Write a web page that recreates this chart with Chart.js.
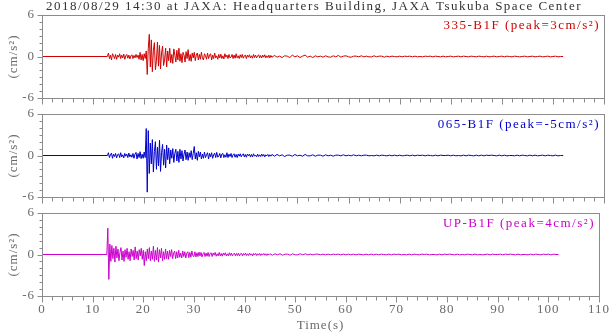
<!DOCTYPE html>
<html>
<head>
<meta charset="utf-8">
<script src="https://cdn.jsdelivr.net/npm/chart.js@4.4.0/dist/chart.umd.min.js"></script>
<style>
  html, body { margin: 0; padding: 0; background: #fff; }
  #wrap { position: relative; width: 616px; height: 334px; }
  #wrap canvas { position: absolute; left: 0; top: 0; }
</style>
</head>
<body>
<div id="wrap">
  <canvas id="c1" width="616" height="334"></canvas>
  <canvas id="c2" width="616" height="334"></canvas>
  <canvas id="c3" width="616" height="334"></canvas>
</div>
<script>
// three accelerograms (cm/s^2).
// quiet until FAST_START, then FAST_STEP samples to 45 s, SLOW_STEP samples to 102 s.
const TITLE = '2018/08/29 14:30 at JAXA: Headquarters Building, JAXA Tsukuba Space Center';
const LABELS = ['335-B1F (peak=3cm/s\u00b2)', '065-B1F (peak=-5cm/s\u00b2)', 'UP-B1F (peak=4cm/s\u00b2)'];
const COLORS = ['#d00000', '#0000cc', '#cc00cc'];
const X_TICKS = [0, 10, 20, 30, 40, 50, 60, 70, 80, 90, 100, 110];
const Y_TICKS = [-6, 0, 6];

const FAST_START = 13.0, FAST_STEP = 0.2;
const SLOW_START = 45.5, SLOW_STEP = 0.5;

const redFast = [
  0.5, -0.3, 0.2, -0.5, 0.4, 0.1, -0.3, 0.3, -0.4, 0.2,
  -0.1, 0.4, -0.3, 0.2, -0.2, 0.35, -0.4, 0.1, 0.3, -0.25,
  0.2, -0.35, 0.1, 0.25, -0.3, 0.15, -0.2, 0.3, -0.15, 0.2,
  -0.4, 0.6, -0.5, 0.3, -0.6,
  0.4, -0.3, 0.8, -2.6, 1.2,
  3.2, -1.5, 2.4, -2.2, 0.9, 2.0, -1.9, -0.6, 2.1, -1.4,
  1.6, -1.8, 0.5, 1.5, -1.3, -0.4, 1.2, -1.5, 0.8, -0.6,
  1.2, -0.9, 0.3, -1.0, 1.1, 0.2, -0.8, 0.9, -0.5, 1.2,
  -0.7, 0.4, -0.9, 0.6, 0.2, -0.8, 0.7, -0.3, 1.0, -0.6,
  0.3, -0.7, 0.5, -0.2, 0.6, -0.6, 0.2, 0.5, -0.5, 0.3,
  -0.4, 0.6, -0.2, -0.5, 0.4, 0.1, -0.4, 0.5, -0.3, 0.2,
  0.4, -0.5, 0.2, -0.3, 0.5, -0.2, 0.1, -0.4, 0.3, -0.2,
  0.35, -0.3, 0.1, -0.35, 0.4, -0.1, 0.2, -0.3, 0.3, -0.2,
  -0.1, 0.3, -0.3, 0.2, -0.25, 0.4, -0.2, 0.1, -0.3, 0.25,
  -0.15, 0.3, -0.25, 0.1, 0.2, -0.3, 0.2, -0.1, 0.25, -0.2,
  0.1, -0.25, 0.3, -0.15, 0.2, -0.2, 0.05, 0.25, -0.2, 0.15,
  -0.2, 0.2, -0.1, 0.25, -0.2, 0.1, -0.15, 0.2, -0.2, 0.15, -0.1
];
const redSlow = [
  0.15, -0.1, 0.05, -0.15, 0.1, 0.05, -0.15, 0.2, -0.05, 0.1,
  -0.15, 0.05, 0.2, -0.1, 0.05, -0.15, 0.1, -0.05, 0.05, -0.1,
  0.1, -0.05, -0.1, 0.1, -0.05, 0.15, -0.1, 0.05, 0.1, -0.05,
  -0.1, 0.05, 0.05, -0.05, 0.1, -0.05, 0.05, -0.05, -0.05, 0.1,
  -0.05, 0.05, 0.05, -0.1, 0.05, -0.05, 0.05, 0, -0.05, 0.05,
  -0.05, 0.05, 0, 0.05, -0.05, 0.05, -0.05, 0, -0.05, 0.05,
  0, 0.05, -0.05, 0.05, 0, -0.05, 0.05, -0.05, 0, 0.05,
  -0.05, 0, 0.05, -0.05, 0.05, 0, -0.05, 0.05, 0, -0.05,
  0.05, 0, -0.05, 0.05, -0.05, 0, 0.05, -0.05, 0, 0.05,
  -0.05, 0.05, 0, -0.05, 0.05, 0, -0.05, 0, 0.05, -0.05,
  0, 0.05, -0.05, 0, 0.05, -0.05, 0, 0.05, -0.05, 0,
  0.05, -0.05, 0, 0
];

const blueFast = [
  0.4, -0.3, 0.1, 0.35, -0.4, 0.2, -0.15, 0.3, -0.35, 0.1,
  0.25, -0.3, 0.4, -0.2, 0.1, -0.35, 0.3, -0.1, 0.2, -0.3,
  0.35, -0.2, 0.1, -0.25, 0.3, -0.4, 0.2, 0.45, -0.5, 0.3,
  -0.3, 0.55, -0.45, 0.2, -0.4,
  0.5, -0.3, 3.9, -5.3, 3.6,
  -2.6, 1.8, -1.2, 2.3, -2.4, 0.6, 2.0, -2.0, 1.2, -1.5,
  2.2, -2.3, 0.4, 1.6, -1.4, 0.9, -1.8, 1.5, -0.6, 1.1,
  -1.2, 0.8, -0.4, 1.0, -1.0, 0.3, 0.9, -0.8, 0.6, -1.0,
  0.9, -0.5, 0.7, -0.8, 0.2, 0.8, -0.6, 0.5, -0.7, 0.4,
  -0.3, 0.7, -0.6, 0.3, 1.3, -0.5, 0.4, -0.7, 0.6, -0.2,
  0.5, -0.5, 0.2, -0.4, 0.5, -0.3, 0.1, 0.4, -0.5, 0.3,
  -0.2, 0.4, -0.4, 0.1, 0.35, -0.3, 0.45, -0.25, -0.1, 0.3,
  -0.35, 0.2, 0.3, -0.3, 0.1, -0.25, 0.4, -0.3, 0.2, -0.15,
  0.3, -0.3, 0.1, 0.25, -0.25, 0.15, -0.3, 0.2, -0.1, 0.25,
  -0.2, 0.1, 0.25, -0.2, 0.15, -0.25, 0.2, -0.05, 0.2, -0.2,
  0.15, -0.2, 0.25, -0.1, 0.05, -0.2, 0.2, -0.15, 0.1, -0.15,
  0.2, -0.1, 0.15, -0.2, 0.1, -0.05, 0.15, -0.15, 0.1, -0.1, 0.15
];
const blueSlow = [
  -0.1, 0.15, -0.05, 0.1, -0.15, 0.05, 0.05, -0.1, 0.15, -0.05,
  0.05, -0.1, 0.15, -0.05, -0.05, 0.1, -0.1, 0.05, 0.05, -0.1,
  0.1, -0.05, 0.05, -0.1, 0.05, 0.05, -0.05, 0.1, -0.05, 0.05,
  -0.05, 0.1, -0.05, 0.05, -0.05, 0.05, 0.05, -0.05, 0, -0.05,
  0.05, -0.05, 0.05, 0, -0.05, 0.05, -0.05, 0.05, -0.05, 0.05,
  -0.05, 0, 0.05, -0.05, 0.05, -0.05, 0.05, 0, 0.05, -0.05,
  0.05, 0, -0.05, 0.05, -0.05, 0.05, 0, 0, 0.05, -0.05,
  0.05, -0.05, 0, -0.05, 0.05, -0.05, 0.05, 0, -0.05, 0.05,
  -0.05, 0.05, -0.05, 0.05, 0, 0.05, 0, -0.05, 0.05, -0.05,
  0.05, -0.05, 0, 0, -0.05, 0.05, -0.05, 0.05, 0, -0.05,
  0.05, -0.05, 0.05, -0.05, 0, 0.05, -0.05, 0.05, 0, -0.05,
  0.05, -0.05, 0, 0
];

const upFast = [
  3.8, -3.6, 1.5, -1.0, 1.3, -0.6, 0.9, -1.1, 1.2, -0.5,
  0.8, -0.9, 0.3, 1.0, -0.8, 0.5, -1.0, 0.7, -0.4, 0.9,
  -0.7, 0.4, -0.9, 0.8, -0.3, 0.6, -0.8, 1.1, -0.6, 0.5,
  -0.8, 0.7, -0.2, 0.9, -0.7, 0.6, -1.6, 0.4, -0.9, 0.8,
  -0.6, 1.0, -0.9, 0.5, -0.7, 1.2, -1.0, 0.6, -0.8, 1.0,
  -1.1, 0.7, -0.5, 0.9, -0.9, 0.4, -0.7, 0.8, -0.6, 0.5,
  -0.7, 0.6, -0.3, 0.7, -0.6, 0.2, 0.5, -0.6, 0.4, -0.5,
  0.6, -0.4, 0.2, -0.5, 0.5, -0.3, 0.4, -0.5, 0.2, 0.4,
  -0.45, 0.3, -0.4, 0.5, -0.2, -0.3, 0.4, -0.35, 0.25, -0.3,
  0.35, -0.2, 0.3, -0.35, 0.1, 0.3, -0.3, 0.2, -0.25, 0.3,
  -0.3, 0.15, 0.25, -0.3, 0.2, -0.1, 0.3, -0.25, 0.1, -0.2,
  0.3, -0.2, 0.15, -0.25, 0.2, -0.1, 0.25, -0.2, 0.1, -0.2,
  0.25, -0.15, 0.2, -0.2, 0.05, 0.2, -0.2, 0.15, -0.15, 0.2,
  -0.2, 0.1, 0.15, -0.2, 0.15, -0.1, 0.2, -0.15, 0.1, -0.15,
  0.2, -0.1, 0.1, -0.2, 0.15, -0.05, 0.15, -0.15, 0.1, -0.1,
  0.15, -0.15, 0.1, -0.05, 0.15, -0.1, 0.1, -0.15, 0.1, -0.05, 0.1
];
const upSlow = [
  -0.1, 0.1, -0.05, 0.1, -0.1, 0.05, 0.05, -0.1, 0.1, -0.05,
  -0.05, 0.1, -0.05, 0.1, -0.05, 0.05, -0.05, 0.05, 0.05, -0.05,
  0.05, -0.05, 0.05, -0.05, 0.05, 0, 0.05, -0.05, 0.05, -0.05,
  0.05, -0.05, 0.05, -0.05, 0.05, 0, -0.05, 0.05, -0.05, 0.05,
  -0.05, 0.05, -0.05, 0.05, 0, -0.05, 0.05, -0.05, 0.05, 0,
  0.05, -0.05, 0, -0.05, 0.05, -0.05, 0.05, 0, -0.05, 0.05,
  0, 0.05, -0.05, 0, 0, -0.05, 0.05, -0.05, 0.05, 0,
  0.05, 0, -0.05, 0.05, -0.05, 0, -0.05, 0.05, 0, -0.05,
  0.05, -0.05, 0, -0.05, 0, 0.05, -0.05, 0.05, 0, 0,
  0.05, -0.05, 0.05, 0, 0.05, 0, -0.05, 0.05, -0.05, 0,
  0, -0.05, 0.05, -0.05, 0.05, 0, -0.05, 0.05, 0, 0.05,
  -0.05, 0.05, 0, 0
];

const FONT = "'Liberation Serif', 'DejaVu Serif', serif";
const AXIS = '#8c8c8c';
const TEXT = '#6a6a6a';

function trace(fast, slow) {
  const pts = [{ x: 0, y: 0 }, { x: FAST_START - FAST_STEP, y: 0 }];
  fast.forEach((v, i) => pts.push({ x: FAST_START + i * FAST_STEP, y: v }));
  slow.forEach((v, i) => pts.push({ x: SLOW_START + i * SLOW_STEP, y: v }));
  return pts;
}

// the original lettering is loosely spaced
const spacingPlugin = {
  id: 'spacing',
  beforeUpdate(chart) { chart.ctx.letterSpacing = '1px'; },
  beforeDraw(chart) { chart.ctx.letterSpacing = '1px'; }
};

// frame, minor/major tick marks, in-panel label (and page title on the first panel)
const framePlugin = {
  id: 'frame',
  afterDraw(chart, args, o) {
    const { ctx, chartArea: a, scales: { x, y } } = chart;
    ctx.save();
    ctx.strokeStyle = AXIS;
    ctx.lineWidth = 1;
    const L = Math.round(a.left) + 0.5, R = Math.round(a.right) + 0.5;
    const T = Math.round(a.top) + 0.5, B = Math.round(a.bottom) + 0.5;
    ctx.strokeRect(L, T, R - L, B - T);
    ctx.beginPath();
    for (let t = 0; t <= 110; t += 2) {
      const px = Math.round(x.getPixelForValue(t)) + 0.5;
      ctx.moveTo(px, B); ctx.lineTo(px, B + (t % 10 === 0 ? 6 : 4));
    }
    for (let v = -6; v <= 6; v++) {
      const py = Math.round(y.getPixelForValue(v)) + 0.5;
      ctx.moveTo(L, py); ctx.lineTo(L - (v % 6 === 0 ? 5 : 3), py);
    }
    ctx.stroke();
    ctx.font = '13px ' + FONT;
    ctx.letterSpacing = '1.5px';
    ctx.fillStyle = o.color;
    ctx.textAlign = 'right';
    ctx.textBaseline = 'alphabetic';
    ctx.fillText(o.label, a.right - 4, a.top + 14);
    if (o.title) {
      ctx.fillStyle = '#333';
      ctx.textAlign = 'center';
      ctx.fillText(o.title, 314, 10);
    }
    ctx.restore();
  }
};

function panel(id, data, color, label, top, bottom, showX, title) {
  const xh = showX ? 334 - bottom : 8;
  return new Chart(document.getElementById(id), {
    type: 'line',
    data: { datasets: [{ data, borderColor: color, borderWidth: 1, pointRadius: 0, tension: 0, fill: false }] },
    options: {
      responsive: false, animation: false, devicePixelRatio: 1,
      layout: { padding: { left: 0, right: 12, top, bottom: showX ? 0 : 334 - bottom - xh } },
      plugins: { legend: { display: false }, tooltip: { enabled: false }, frame: { color, label, title } },
      scales: {
        x: {
          type: 'linear', min: 0, max: 110,
          afterFit: s => { s.height = xh; },
          afterBuildTicks: s => { s.ticks = X_TICKS.map(v => ({ value: v })); },
          grid: { display: false, drawTicks: false }, border: { display: false },
          ticks: { display: showX, maxRotation: 0, autoSkip: false, padding: 6, color: TEXT, font: { family: FONT, size: 13 } },
          title: { display: showX, text: 'Time(s)', color: TEXT, font: { family: FONT, size: 13 }, padding: { top: 0, bottom: 1 } }
        },
        y: {
          min: -6, max: 6,
          afterFit: s => { s.width = 42; },
          afterBuildTicks: s => { s.ticks = Y_TICKS.map(v => ({ value: v })); },
          grid: { display: false, drawTicks: false }, border: { display: false },
          ticks: { padding: 7, color: TEXT, font: { family: FONT, size: 13 } },
          title: { display: true, text: '(cm/s\u00b2)', color: TEXT, font: { family: FONT, size: 13 }, padding: { top: 6, bottom: 0 } }
        }
      }
    },
    plugins: [spacingPlugin, framePlugin]
  });
}

panel('c1', trace(redFast, redSlow), COLORS[0], LABELS[0], 15, 98, false, TITLE);
panel('c2', trace(blueFast, blueSlow), COLORS[1], LABELS[1], 114, 197, false, null);
panel('c3', trace(upFast, upSlow), COLORS[2], LABELS[2], 213, 296, true, null);
</script>
</body>
</html>
